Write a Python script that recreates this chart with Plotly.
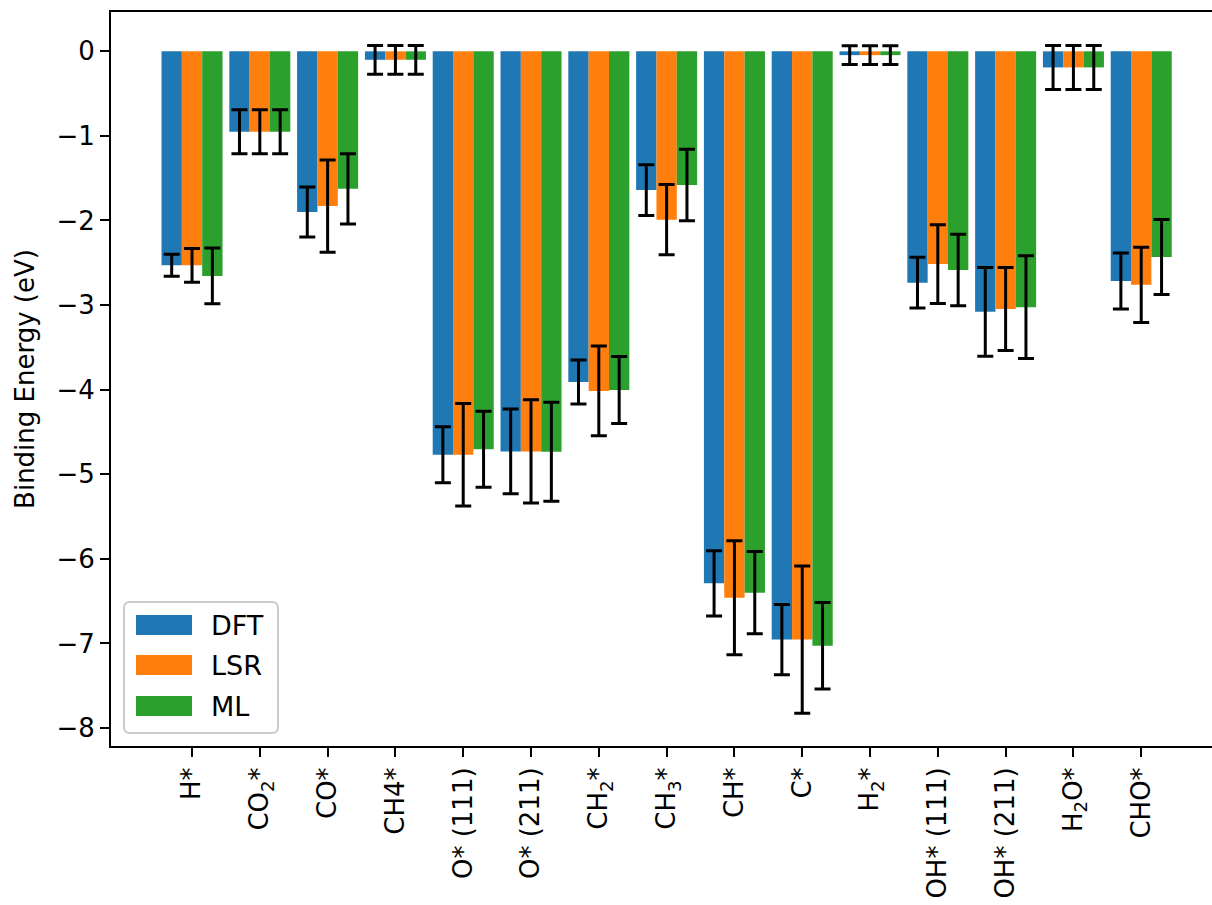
import plotly.graph_objects as go

categories = ["H*", "CO<sub>2</sub>*", "CO*", "CH4*", "O* (111)", "O* (211)",
              "CH<sub>2</sub>*", "CH<sub>3</sub>*", "CH*", "C*", "H<sub>2</sub>*",
              "OH* (111)", "OH* (211)", "H<sub>2</sub>O*", "CHO*"]

dft = [-2.53, -0.95, -1.90, -0.10, -4.77, -4.73, -3.91, -1.64, -6.29, -6.955,
       -0.045, -2.735, -3.08, -0.19, -2.715]
dft_err = [0.13, 0.26, 0.295, 0.17, 0.33, 0.50, 0.26, 0.30, 0.385, 0.415,
           0.11, 0.30, 0.525, 0.26, 0.33]
lsr = [-2.53, -0.95, -1.83, -0.10, -4.77, -4.73, -4.015, -1.99, -6.46, -6.955,
       -0.045, -2.515, -3.046, -0.19, -2.76]
lsr_err = [0.20, 0.26, 0.545, 0.17, 0.605, 0.61, 0.53, 0.415, 0.675, 0.87,
           0.11, 0.465, 0.49, 0.26, 0.445]
ml = [-2.655, -0.95, -1.625, -0.10, -4.705, -4.735, -4.005, -1.58, -6.40, -7.028,
      -0.045, -2.585, -3.025, -0.19, -2.432]
ml_err = [0.33, 0.26, 0.415, 0.17, 0.45, 0.585, 0.396, 0.423, 0.487, 0.512,
          0.11, 0.422, 0.607, 0.26, 0.443]

series_names = ["DFT", "LSR", "ML"]
series_colors = ["#1f77b4", "#ff7f0e", "#2ca02c"]

y_tick_vals = [0, -1, -2, -3, -4, -5, -6, -7, -8]
y_tick_text = ["0", "\u22121", "\u22122", "\u22123", "\u22124", "\u22125", "\u22126", "\u22127", "\u22128"]

x_idx = list(range(len(categories)))
FONT = "DejaVu Sans"
FS = 26

W, H = 1212, 905
ML_, MR_, MT_, MB_ = 111, 0, 12, 159
PW = W - ML_ - MR_
PH = H - MT_ - MB_


def px_x(p):
    return (p - ML_) / PW


def px_y(p):
    return (H - MB_ - p) / PH


fig = go.Figure()
for name, vals, errs, col in zip(series_names, [dft, lsr, ml], [dft_err, lsr_err, ml_err], series_colors):
    fig.add_trace(go.Bar(
        x=x_idx, y=vals, name=name, showlegend=False,
        marker=dict(color=col, line=dict(width=0)),
        error_y=dict(type="data", array=errs, visible=True, color="black",
                     thickness=3, width=8),
    ))

# legend (matplotlib style: wide patches, rounded frame)
shapes = []
annotations = []
bx0, bx1, by0, by1, r = 124, 278, 602, 733, 6
rx, ry = r / PW, r / PH
X0, X1, Y0, Y1 = px_x(bx0), px_x(bx1), px_y(by1), px_y(by0)
path = (f"M{X0+rx},{Y0} L{X1-rx},{Y0} Q{X1},{Y0} {X1},{Y0+ry} "
        f"L{X1},{Y1-ry} Q{X1},{Y1} {X1-rx},{Y1} L{X0+rx},{Y1} "
        f"Q{X0},{Y1} {X0},{Y1-ry} L{X0},{Y0+ry} Q{X0},{Y0} {X0+rx},{Y0} Z")
shapes.append(dict(type="path", xref="paper", yref="paper", path=path,
                   fillcolor="rgba(255,255,255,0.8)", line=dict(color="#cccccc", width=2),
                   layer="above"))
row_centers = [625, 665, 706]
for name, col, cy in zip(series_names, series_colors, row_centers):
    shapes.append(dict(type="rect", xref="paper", yref="paper",
                       x0=px_x(136), x1=px_x(192), y0=px_y(cy + 10), y1=px_y(cy - 10),
                       fillcolor=col, line=dict(width=0), layer="above"))
    annotations.append(dict(xref="paper", yref="paper", x=px_x(209), y=px_y(cy),
                            xanchor="left", yanchor="middle", text=name, showarrow=False,
                            font=dict(family=FONT, size=FS + 1, color="black")))

fig.update_layout(
    width=W, height=H,
    margin=dict(l=ML_, r=MR_, t=MT_, b=MB_),
    paper_bgcolor="white", plot_bgcolor="white",
    barmode="group", bargap=0.1, bargroupgap=0,
    font=dict(family=FONT, size=FS, color="black"),
    showlegend=False,
    shapes=shapes, annotations=annotations,
)
fig.update_xaxes(
    range=[-1.195, 15.044], tickmode="array", tickvals=x_idx, ticktext=categories,
    tickangle=-90, showline=True, linecolor="black", linewidth=2, mirror=True,
    ticks="outside", ticklen=9, tickwidth=2, tickcolor="black",
    showgrid=False, zeroline=False, tickfont=dict(family=FONT, size=FS),
)
fig.update_yaxes(
    range=[-8.213, 0.465], tickmode="array", tickvals=y_tick_vals, ticktext=y_tick_text,
    showline=True, linecolor="black", linewidth=2, mirror=False,
    ticks="outside", ticklen=9, tickwidth=2, tickcolor="black",
    showgrid=False, zeroline=False, tickfont=dict(family=FONT, size=FS),
    title=dict(text="Binding Energy (eV)", font=dict(family=FONT, size=FS), standoff=14),
)

fig.write_html("out.html")
